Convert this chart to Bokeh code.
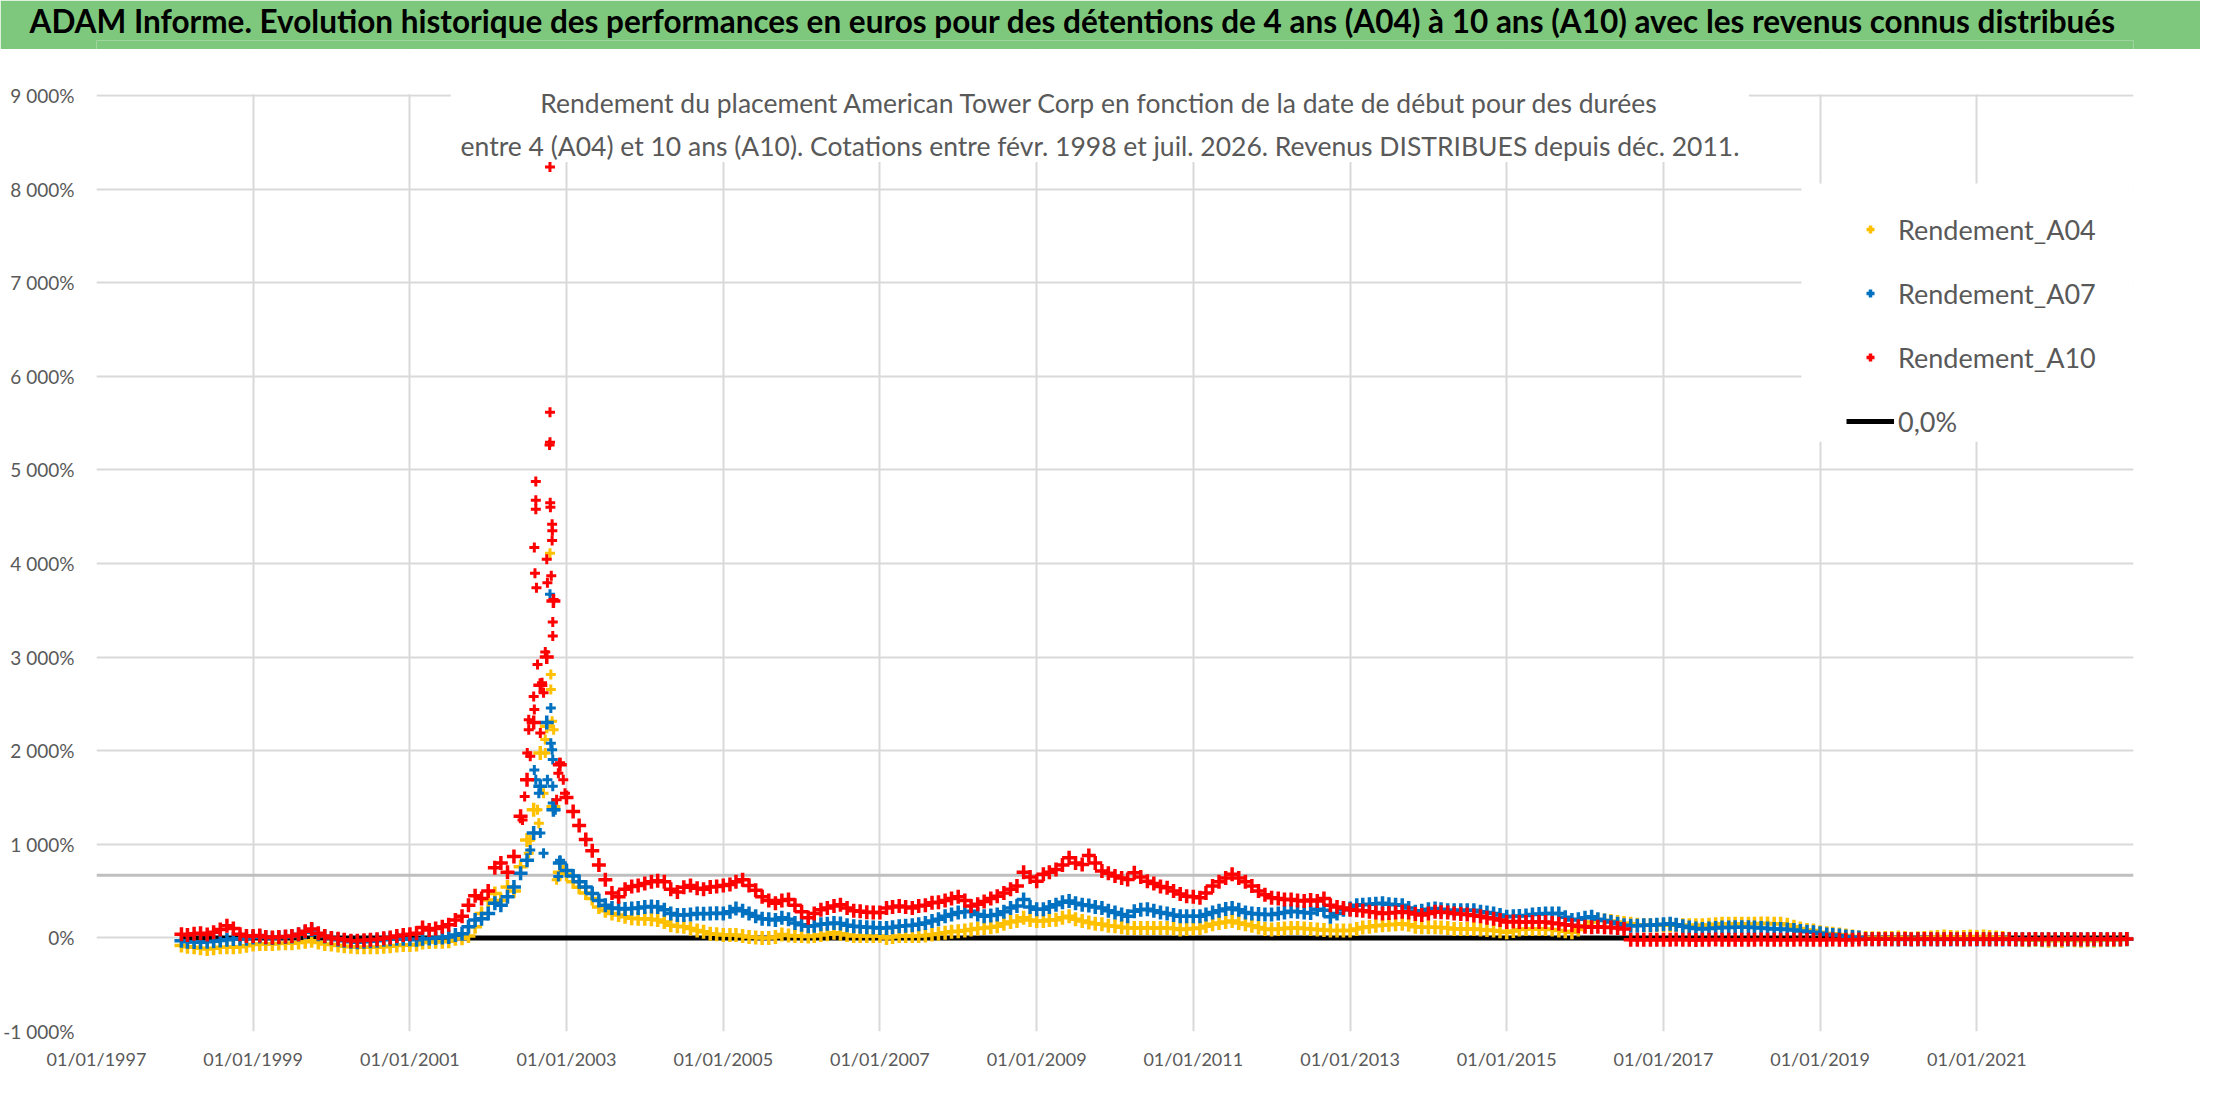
import pandas as pd
from bokeh.plotting import figure
from bokeh.layouts import column
from bokeh.models import (FixedTicker, DatetimeTickFormatter, Label, BoxAnnotation,
                          Span, Legend, LegendItem)
from bokeh.embed import file_html
from bokeh.resources import INLINE

# Rendements (%), un point par mois depuis fevr. 1998
debut = "1998-02-01"

rendement_a04 = [
    -80, -95, -100, -110, -118, -110, -100, -100, -100, -95, -85,          # 1998
    -70, -65, -65, -65, -60, -58, -57, -50, -40, -30, -50, -65,            # 1999
    -70, -82, -90, -95, -100, -100, -100, -100, -95, -90, -82, -75,        # 2000
    -75, -70, -50, -45, -40, -40, -35, -10, -5, 20, 120, 260,              # 2001
    405, 475, 400, 545, 500, 760, 1045, 1370, 1975, 2260, 1400, 700,       # 2002
    680, 600, 540, 480, 420, 330, 290, 260, 245, 225, 210, 205,            # 2003
    205, 200, 190, 170, 135, 125, 120, 100, 80, 65, 45, 40,                # 2004
    30, 30, 30, 20, 10, 5, 0, 0, 10, 35, 25, 20,                           # 2005
    20, 15, 20, 30, 40, 55, 45, 30, 20, 20, 20, 20,                        # 2006
    20, 0, 10, 20, 20, 20, 20, 25, 35, 45, 55, 65,                         # 2007
    70, 80, 90, 100, 105, 115, 125, 150, 170, 180, 215, 190,               # 2008
    180, 180, 190, 195, 215, 230, 200, 180, 165, 150, 145, 130,            # 2009
    125, 115, 105, 105, 105, 105, 105, 105, 105, 100, 90, 95,              # 2010
    100, 105, 125, 145, 160, 170, 180, 160, 145, 130, 110, 95,             # 2011
    90, 95, 100, 105, 105, 100, 95, 90, 85, 80, 80, 80,                    # 2012
    80, 95, 110, 120, 130, 135, 140, 145, 150, 140, 120, 115,              # 2013
    115, 115, 110, 105, 95, 95, 95, 95, 90, 85, 80, 70,                    # 2014
    60, 75, 90, 95, 95, 95, 95, 90, 80, 70, 60, 90,                        # 2015
    130, 170, 190, 185, 180, 170, 160, 150, 140, 135, 135, 135,            # 2016
    135, 135, 135, 135, 135, 135, 135, 140, 145, 150, 150, 150,            # 2017
    150, 150, 150, 155, 155, 150, 150, 140, 120, 100, 85, 80,              # 2018
    60, 50, 45, 35, 25, 15, 5, 0, -5, -5, 0, 0,                            # 2019
    5, 0, -10, -5, 0, 5, 10, 15, 10, 5, 10, 15,                            # 2020
    10, 15, 10, 5, 0, -10, -15, -20, -25, -20, -25, -30,                   # 2021
    -25, -30, -20, -25, -30, -25, -30, -25, -20, -25, -20, -15,            # 2022
]

rendement_a07 = [
    -30, -40, -45, -46, -40, -35, -29, -20, -11, -10, -10,                 # 1998
    5, 15, 5, 0, 5, 10, 15, 35, 60, 85, 40, 15,                            # 1999
    -5, -20, -30, -40, -46, -40, -35, -30, -20, -15, -10, -10,             # 2000
    -15, -20, -10, -7, 0, 5, 10, 30, 45, 120, 190, 205,                    # 2001
    260, 370, 350, 440, 545, 690, 830, 1120, 1620, 2300, 1370, 800,        # 2002
    720, 660, 600, 545, 475, 400, 350, 320, 315, 310, 315, 320,            # 2003
    330, 335, 330, 300, 260, 245, 245, 250, 260, 258, 260, 262,            # 2004
    260, 280, 315, 290, 260, 230, 205, 200, 190, 215, 200, 160,            # 2005
    140, 125, 130, 145, 150, 160, 155, 135, 125, 120, 115, 110,            # 2006
    105, 105, 115, 125, 130, 135, 145, 160, 180, 200, 230, 250,            # 2007
    270, 280, 285, 250, 230, 240, 250, 280, 320, 340, 410, 330,            # 2008
    305, 305, 330, 355, 380, 395, 370, 355, 345, 330, 320, 290,            # 2009
    270, 250, 230, 285, 300, 305, 290, 270, 260, 245, 230, 230,            # 2010
    230, 230, 250, 270, 290, 310, 320, 300, 270, 260, 255, 250,            # 2011
    250, 260, 270, 285, 280, 270, 265, 305, 295, 225, 260, 300,            # 2012
    315, 350, 355, 360, 365, 370, 360, 355, 350, 320, 280, 290,            # 2013
    305, 315, 305, 295, 295, 295, 295, 295, 280, 270, 260, 245,            # 2014
    225, 230, 235, 240, 250, 255, 260, 260, 260, 220, 190, 200,            # 2015
    215, 225, 200, 185, 170, 150, 135, 130, 130, 135, 135, 140,            # 2016
    145, 150, 140, 125, 110, 100, 95, 100, 105, 110, 110, 115,             # 2017
    115, 115, 110, 105, 100, 95, 95, 90, 85, 75, 65, 60,                   # 2018
    50, 35, 30, 25, 15, 10, 5, -15, -15, -15, -15, -15,                    # 2019
    -18, -15, -18, -15, -18, -15, -18, -15, -18, -15, -18, -15,            # 2020
    -18, -15, -18, -15, -18, -15, -18, -15, -18, -15, -18, -15,            # 2021
    -18, -15, -18, -15, -18, -15, -18, -15, -18, -15, -18, -15,            # 2022
]

rendement_a10 = [
    40, 30, 45, 50, 35, 60, 90, 130, 100, 40, 20,                          # 1998
    20, 25, 10, 5, 10, 15, 20, 40, 70, 95, 50, 20,                         # 1999
    0, -10, -20, -30, -30, -25, -20, -15, -5, 5, 20, 30,                   # 2000
    40, 50, 110, 85, 100, 120, 140, 190, 230, 350, 450, 420,               # 2001
    500, 750, 800, 700, 870, 1300, 1690, 2300, 2700, 3000, 3600, 1850,     # 2002
    1500, 1350, 1200, 1050, 930, 780, 620, 480, 440, 520, 550, 560,        # 2003
    580, 600, 610, 600, 520, 490, 540, 560, 530, 520, 545, 550,            # 2004
    560, 570, 600, 620, 560, 510, 440, 400, 370, 400, 410, 350,            # 2005
    280, 215, 260, 300, 320, 340, 355, 320, 290, 285, 275, 270,            # 2006
    270, 320, 330, 340, 330, 320, 340, 350, 375, 380, 400, 420,            # 2007
    440, 400, 340, 360, 390, 420, 445, 480, 520, 555, 700, 650,            # 2008
    605, 680, 700, 730, 780, 855, 800, 785, 880, 800, 715, 690,            # 2009
    660, 640, 625, 695, 650, 605, 580, 550, 535, 500, 470, 445,            # 2010
    440, 430, 480, 555, 600, 640, 680, 640, 600, 555, 500, 460,            # 2011
    430, 420, 410, 410, 400, 395, 405, 395, 420, 350, 330, 320,            # 2012
    300, 295, 290, 280, 270, 260, 265, 270, 280, 270, 255, 245,            # 2013
    260, 280, 275, 270, 260, 255, 250, 240, 230, 215, 205, 190,            # 2014
    170, 175, 170, 170, 170, 170, 170, 160, 150, 140, 135, 125,            # 2015
    120, 115, 120, 115, 110, 105, 95, -20, -20, -20, -20, -20,             # 2016
    -20, -20, -18, -20, -20, -22, -20, -20, -18, -20, -20, -20,            # 2017
    -20, -20, -20, -18, -20, -20, -20, -20, -20, -18, -20, -20,            # 2018
    -20, -20, -18, -20, -20, -20, -18, -15, -15, -15, -15, -15,            # 2019
    -15, -12, -15, -15, -12, -15, -15, -15, -12, -15, -15, -15,            # 2020
    -12, -15, -15, -15, -12, -15, -15, -15, -15, -12, -15, -15,            # 2021
    -15, -15, -12, -15, -15, -15, -12, -15, -15, -15, -15, -12,            # 2022
]

# Points isoles du pic de 2002 (cotations quotidiennes dispersees)
pic_a10_dates = ["2002-06-10", "2002-06-20", "2002-07-02", "2002-07-09", "2002-07-09",
                 "2002-07-16", "2002-08-01", "2002-08-04", "2002-08-04", "2002-08-07",
                 "2002-08-11", "2002-08-11", "2002-08-11", "2002-08-14", "2002-08-19",
                 "2002-09-01", "2002-09-09", "2002-09-16", "2002-09-24", "2002-10-01",
                 "2002-10-04", "2002-10-14", "2002-10-16", "2002-10-16", "2002-10-16",
                 "2002-10-17", "2002-10-18", "2002-10-22", "2002-10-26", "2002-10-26",
                 "2002-10-27", "2002-10-29", "2002-10-29", "2002-11-02", "2002-11-16",
                 "2002-11-24", "2002-12-02", "2002-12-17", "2002-12-25"]
pic_a10 = [1260, 1510, 1975, 2330, 2225,
           1940, 2580, 4170, 2440, 3895,
           4875, 4675, 4580, 3740, 2920,
           2190, 2725, 2620, 3055, 4045,
           3795, 5265, 5295, 5615, 8235,
           4650, 4600, 3870, 4420, 4245,
           4350, 3375, 3225, 3615, 1475,
           1760, 1870, 1690, 1545]

pic_a07_dates = ["2002-07-16", "2002-08-04", "2002-08-11", "2002-08-25", "2002-09-01",
                 "2002-09-16", "2002-10-04", "2002-10-16", "2002-10-20", "2002-10-20",
                 "2002-10-26", "2002-10-29", "2002-10-29", "2002-10-29", "2002-11-10",
                 "2002-11-24", "2002-12-02"]
pic_a07 = [940, 1795, 1690, 1545, 1120,
           905, 1690, 3670, 2455, 2080,
           2010, 1905, 1620, 1440, 1370,
           655, 830]

pic_a04_dates = ["2002-07-09", "2002-07-16", "2002-08-19", "2002-08-25", "2002-09-16",
                 "2002-09-24", "2002-09-24", "2002-10-16", "2002-10-20", "2002-10-20",
                 "2002-10-26", "2002-11-02", "2002-11-16", "2002-12-17"]
pic_a04 = [905, 1045, 1370, 1225, 1545,
           2120, 1975, 4110, 2815, 2655,
           2315, 2225, 620, 725]

zero_dates = ["1998-02-01", "2022-12-01"]
zero_vals = [0, 0]
seuil = 670

x_tick_years = [1997, 1999, 2001, 2003, 2005, 2007, 2009, 2011, 2013, 2015, 2017, 2019, 2021]
y_ticks = [-1000, 0, 1000, 2000, 3000, 4000, 5000, 6000, 7000, 8000, 9000]
y_labels = ["-1 000%", "0%", "1 000%", "2 000%", "3 000%", "4 000%", "5 000%",
            "6 000%", "7 000%", "8 000%", "9 000%"]

titre = ("ADAM Informe. Evolution historique des performances en euros pour des détentions "
         "de 4 ans (A04) à 10 ans (A10) avec les revenus connus distribués")
sous_titre_1 = ("Rendement du placement American Tower Corp en fonction de la date de début "
                "pour des durées")
sous_titre_2 = ("entre 4 (A04) et 10 ans (A10). Cotations entre févr. 1998 et juil. 2026. "
                "Revenus DISTRIBUES depuis déc. 2011.")

FONT = "Lato"
GRIS = "#595959"
VERT = "#7ec87e"
JAUNE, BLEU, ROUGE = "#FFC000", "#0070C0", "#FF0000"


def ms(d):
    return pd.Timestamp(d).value / 1e6


def mois(serie):
    return pd.date_range(debut, periods=len(serie), freq="MS")


# bandeau vert : le texte est le titre de cette petite figure (pas coupe par le cadre)
t = figure(width=2200, height=49, toolbar_location=None, output_backend="svg",
           min_border=0, background_fill_color=VERT, border_fill_color=VERT,
           outline_line_color=None, title=titre, title_location="above")
t.min_border_top = 4
t.xaxis.visible = False
t.yaxis.visible = False
t.grid.visible = False
t.title.align = "left"
t.title.offset = -67
t.title.standoff = 0
t.title.vertical_align = "middle"
t.title.text_font = FONT
t.title.text_font_style = "bold"
t.title.text_font_size = "31.5px"
t.title.text_color = "black"

# le cadre monte jusqu'au bandeau pour que le sous-titre ne soit pas coupe
p = figure(width=2200, height=1037, x_axis_type="datetime",
           x_range=(pd.Timestamp("1997-01-01"), pd.Timestamp("2023-01-01")),
           y_range=(-1000, 9459), toolbar_location=None, output_backend="svg",
           min_border_left=90, min_border_right=67, min_border_top=3, min_border_bottom=55,
           outline_line_color=None, background_fill_color="white")

x_ticks = [ms(f"{a}-01-01") for a in x_tick_years]
p.xaxis.ticker = FixedTicker(ticks=x_ticks)
p.xgrid.ticker = FixedTicker(ticks=x_ticks)
fmt = "%d/%m/%Y"
p.xaxis.formatter = DatetimeTickFormatter(years=fmt, months=fmt, days=fmt, hours=fmt,
                                          minutes=fmt, seconds=fmt, milliseconds=fmt,
                                          microseconds=fmt, hourmin=fmt, minsec=fmt)
p.yaxis.ticker = FixedTicker(ticks=y_ticks)
p.ygrid.ticker = FixedTicker(ticks=y_ticks)
p.yaxis.major_label_overrides = dict(zip(y_ticks, y_labels))

for ax in (p.xaxis[0], p.yaxis[0]):
    ax.axis_line_color = None
    ax.major_tick_line_color = None
    ax.minor_tick_line_color = None
    ax.major_label_text_font = FONT
    ax.major_label_text_color = GRIS
p.xaxis.major_label_text_font_size = "18px"
p.yaxis.major_label_text_font_size = "19px"
p.xaxis.major_label_standoff = 10
p.yaxis.major_label_standoff = 16

p.grid.grid_line_color = "#d9d9d9"
p.grid.grid_line_width = 2

p.add_layout(Span(location=seuil, dimension="width", line_color="#bfbfbf",
                  line_width=3, level="underlay"))

r_zero = p.line(pd.to_datetime(zero_dates), zero_vals, line_color="black", line_width=5)

bande = dict(marker="cross", size=14, line_width=3.5)
isole = dict(marker="cross", size=10, line_width=3)
r04 = p.scatter(mois(rendement_a04), rendement_a04, line_color=JAUNE, **bande)
p.scatter(pd.to_datetime(pic_a04_dates), pic_a04, line_color=JAUNE, **isole)
r07 = p.scatter(mois(rendement_a07), rendement_a07, line_color=BLEU, **bande)
p.scatter(pd.to_datetime(pic_a07_dates), pic_a07, line_color=BLEU, **isole)
r10 = p.scatter(mois(rendement_a10), rendement_a10, line_color=ROUGE, **bande)
p.scatter(pd.to_datetime(pic_a10_dates), pic_a10, line_color=ROUGE, **isole)

# blanc au-dessus de 9 000 %, cadres blancs du sous-titre et de la legende
p.add_layout(BoxAnnotation(bottom=9012, fill_color="white", fill_alpha=1, line_color=None))
p.add_layout(BoxAnnotation(left=ms("2001-07-11"), right=ms("2018-02-03"), bottom=8290,
                           fill_color="white", fill_alpha=1, line_color=None))
p.add_layout(BoxAnnotation(left=ms("2018-10-06"), bottom=5300, top=8060,
                           fill_color="white", fill_alpha=1, line_color=None))

for txt, y in ((sous_titre_1, 8915), (sous_titre_2, 8465)):
    p.add_layout(Label(x=ms("2009-10-23"), y=y, text=txt, text_align="center",
                       text_baseline="middle", text_font=FONT, text_font_size="26.5px",
                       text_color=GRIS))

legend = Legend(items=[LegendItem(label="Rendement_A04", renderers=[r04]),
                       LegendItem(label="Rendement_A07", renderers=[r07]),
                       LegendItem(label="Rendement_A10", renderers=[r10]),
                       LegendItem(label="0,0%", renderers=[r_zero])],
                location=(1750, 590), background_fill_alpha=0, border_line_color=None,
                label_text_font=FONT, label_text_font_size="27px", label_text_color=GRIS,
                glyph_width=48, glyph_height=20, label_height=40, spacing=24,
                padding=12, margin=0, label_standoff=4)
p.add_layout(legend)

page = column(t, p)
open("out.html", "w").write(file_html(page, INLINE))
